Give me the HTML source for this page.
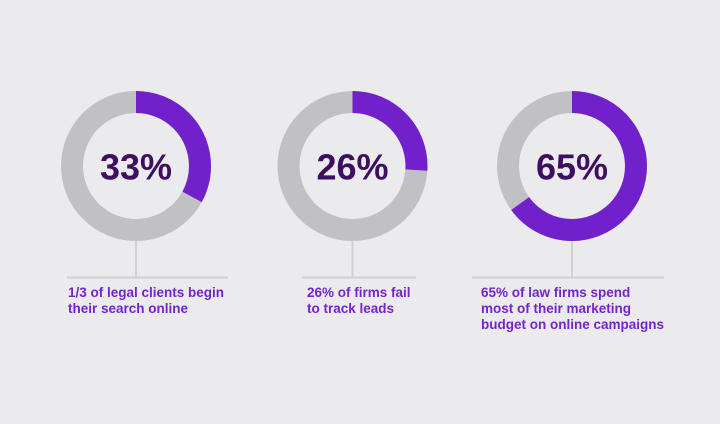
<!DOCTYPE html>
<html>
<head>
<meta charset="utf-8">
<style>
  html, body { margin:0; padding:0; }
  body { width:720px; height:424px; background:#ebebee; position:relative; overflow:hidden; font-family:"Liberation Sans", sans-serif; }
  svg { position:absolute; left:0; top:0; }
  .cap { position:absolute; color:#7523cf; font-weight:bold; font-size:13.5px; line-height:16px; white-space:nowrap; }
</style>
</head>
<body>
<svg width="720" height="424" viewBox="0 0 720 424">
  <!-- Donut 1 -->
  <circle cx="136" cy="166" r="64" fill="none" stroke="#c1c1c3" stroke-width="22"/>
  <circle cx="136" cy="166" r="64" fill="none" stroke="#7120cc" stroke-width="22"
          stroke-dasharray="132.7 500" transform="rotate(-90 136 166)"/>
  <text x="136" y="179.5" text-anchor="middle" font-family="Liberation Sans, sans-serif" font-weight="bold" font-size="36" fill="#3e0f61">33%</text>
  <rect x="135" y="241" width="2" height="36" fill="#d0d0d3"/>
  <rect x="67" y="276.5" width="161" height="2" fill="#d0d0d3"/>

  <!-- Donut 2 -->
  <circle cx="352.5" cy="166" r="64" fill="none" stroke="#c1c1c3" stroke-width="22"/>
  <circle cx="352.5" cy="166" r="64" fill="none" stroke="#7120cc" stroke-width="22"
          stroke-dasharray="104.55 500" transform="rotate(-90 352.5 166)"/>
  <text x="352.5" y="179.5" text-anchor="middle" font-family="Liberation Sans, sans-serif" font-weight="bold" font-size="36" fill="#3e0f61">26%</text>
  <rect x="351.5" y="241" width="2" height="36" fill="#d0d0d3"/>
  <rect x="302" y="276.5" width="114" height="2" fill="#d0d0d3"/>

  <!-- Donut 3 -->
  <circle cx="572" cy="166" r="64" fill="none" stroke="#c1c1c3" stroke-width="22"/>
  <circle cx="572" cy="166" r="64" fill="none" stroke="#7120cc" stroke-width="22"
          stroke-dasharray="261.4 500" transform="rotate(-90 572 166)"/>
  <text x="572" y="179.5" text-anchor="middle" font-family="Liberation Sans, sans-serif" font-weight="bold" font-size="36" fill="#3e0f61">65%</text>
  <rect x="571" y="241" width="2" height="36" fill="#d0d0d3"/>
  <rect x="472" y="276.5" width="192" height="2" fill="#d0d0d3"/>
</svg>

<div class="cap" style="left:68px; top:285px;">1/3 of legal clients begin<br>their search online</div>
<div class="cap" style="left:307px; top:285px;">26% of firms fail<br>to track leads</div>
<div class="cap" style="left:481px; top:285px;">65% of law firms spend<br>most of their marketing<br>budget on online campaigns</div>
</body>
</html>
